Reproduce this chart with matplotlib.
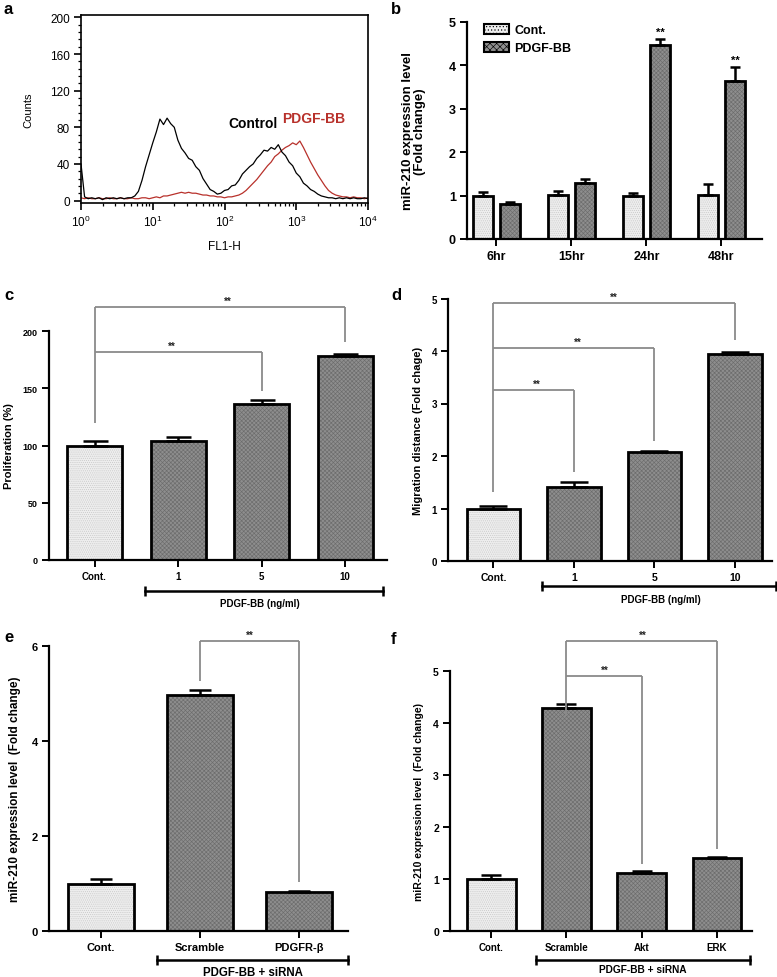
import numpy as np
import matplotlib
matplotlib.use("Agg")
import matplotlib.pyplot as plt
from matplotlib.patches import Patch
from matplotlib.ticker import MultipleLocator, LogLocator, NullFormatter, FixedLocator

plt.rcParams['font.family'] = ['Liberation Sans', 'DejaVu Sans']
plt.rcParams['mathtext.fontset'] = 'custom'
plt.rcParams['mathtext.rm'] = 'Liberation Sans'
plt.rcParams['mathtext.it'] = 'Liberation Sans:italic'
plt.rcParams['mathtext.bf'] = 'Liberation Sans:bold'
plt.rcParams['hatch.linewidth'] = 0.45

# ---------------- data ----------------
# panel a: flow cytometry histogram (log10 FL1-H bins, 0.05 decade apart)
fl_log_bins = np.arange(0, 4.0001, 0.05)
control_counts = [40, 4, 2, 3, 2, 3, 1, 3, 2, 3, 2, 3, 2, 3, 3, 5,
                  10, 22, 37, 50, 63, 75, 89, 83, 90, 84, 80, 66, 57, 52, 46, 44,
                  37, 33, 24, 18, 12, 10, 7, 8, 11, 12, 16, 17, 22, 29, 33, 37,
                  40, 46, 50, 55, 54, 58, 56, 61, 53, 49, 42, 38, 30, 26, 19, 16,
                  12, 10, 7, 5, 4, 3, 3, 2, 3, 2, 3, 2, 3, 2, 2, 3, 2]
pdgf_counts = [3, 2, 3, 2, 2, 3, 2, 2, 3, 2, 2, 3, 2, 2, 3, 2,
               2, 3, 3, 2, 3, 4, 3, 5, 5, 6, 7, 8, 9, 8, 9, 8,
               8, 7, 6, 6, 5, 5, 4, 4, 3, 4, 4, 5, 6, 8, 11, 15,
               19, 23, 28, 33, 38, 42, 48, 51, 55, 58, 60, 63, 61, 65, 58, 50,
               42, 35, 28, 22, 16, 11, 8, 6, 5, 4, 4, 3, 4, 3, 3, 2, 3]

# panel b
b_times = ["6hr", "15hr", "24hr", "48hr"]
b_cont = [1.00, 1.01, 1.00, 1.02]
b_cont_err = [0.09, 0.10, 0.05, 0.25]
b_pdgf = [0.81, 1.28, 4.46, 3.64]
b_pdgf_err = [0.03, 0.10, 0.14, 0.31]

# panel c
c_labels = ["Cont.", "1", "5", "10"]
c_vals = [100, 104, 136, 178]
c_err = [3.5, 3, 4, 1.5]

# panel d
d_labels = ["Cont.", "1", "5", "10"]
d_vals = [1.00, 1.41, 2.08, 3.94]
d_err = [0.04, 0.09, 0.01, 0.04]

# panel e
e_labels = ["Cont.", "Scramble", "PDGFR-β"]
e_vals = [1.00, 4.96, 0.82]
e_err = [0.10, 0.11, 0.02]

# panel f
f_labels = ["Cont.", "Scramble", "Akt", "ERK"]
f_vals = [1.00, 4.28, 1.12, 1.40]
f_err = [0.08, 0.08, 0.03, 0.03]

# ---------------- layout ----------------
W, H = 777, 978
fig = plt.figure(figsize=(W / 100, H / 100), dpi=100)


def rect(l, t, r, b):
    return [l / W, 1 - b / H, (r - l) / W, (b - t) / H]


LIGHT = dict(fc='#eeeeee', hc='#c8c8c8', hatch='........')
DARK = dict(fc='#8e8e8e', hc='#6c6c6c', hatch='xxxxxxxx')


def draw_bars(ax, x, h, w, style):
    ax.bar(x, h, w, color=style['fc'], edgecolor=style['hc'], hatch=style['hatch'],
           linewidth=0, zorder=2)
    ax.bar(x, h, w, fill=False, edgecolor='black', linewidth=2.0, zorder=3)


def draw_err(ax, x, h, e, cap):
    ax.errorbar(x, h, yerr=[np.zeros(len(e)), e], fmt='none', ecolor='black',
                elinewidth=1.8, capsize=cap, capthick=1.8, zorder=4)


def style_bar_axes(ax, ytick_size, xtick_size):
    for s in ['top', 'right']:
        ax.spines[s].set_visible(False)
    for s in ['left', 'bottom']:
        ax.spines[s].set_linewidth(1.6)
    ax.tick_params(direction='out', length=5, width=1.4, pad=3)
    ax.tick_params(axis='y', labelsize=ytick_size)
    ax.tick_params(axis='x', labelsize=xtick_size)
    for lab in ax.get_xticklabels() + ax.get_yticklabels():
        lab.set_fontweight('bold')


def bracket(ax, x0, x1, y, y0_left, y1_right, star_x, star_y, fs=7):
    kw = dict(color='#8a8a8a', lw=1.3, clip_on=False, zorder=5, solid_capstyle='butt')
    if y0_left is not None:
        ax.plot([x0, x0], [y0_left, y], **kw)
    ax.plot([x0, x1], [y, y], **kw)
    ax.plot([x1, x1], [y, y1_right], **kw)
    ax.text(star_x, star_y, "**", ha='center', va='bottom', fontsize=fs,
            fontweight='bold', color='#222222')


def group_line(ax, x0, x1, yax, text, tx, tyax, fs):
    tr = ax.get_xaxis_transform()
    ax.plot([x0, x1], [yax, yax], color='black', lw=1.8, transform=tr, clip_on=False)
    ax.plot([x0, x1], [yax, yax], ls='none', marker='|', ms=7, mew=1.8, color='black',
            transform=tr, clip_on=False)
    ax.text(tx, tyax, text, transform=tr, ha='center', va='center', fontsize=fs,
            fontweight='bold')


def ylabel_at(ax, text, right_px, left_px, width_px, fs, **kw):
    ax.set_ylabel(text, fontsize=fs, fontweight='bold', **kw)
    ax.yaxis.set_label_coords((right_px - left_px) / width_px, 0.5)


# ---------------- panel a ----------------
axa = fig.add_axes(rect(81, 16, 368, 204))
xs = 10 ** fl_log_bins
axa.plot(xs, control_counts, color='black', lw=0.9, zorder=3)
axa.plot(xs, pdgf_counts, color='#b8312b', lw=0.9, zorder=2)
axa.set_xscale('log')
axa.set_xlim(1, 1e4)
axa.set_ylim(-2.7, 202.7)
axa.set_yticks([0, 40, 80, 120, 160, 200])
axa.yaxis.set_minor_locator(MultipleLocator(8))
axa.xaxis.set_major_locator(FixedLocator([1, 10, 100, 1000, 10000]))
axa.xaxis.set_minor_locator(LogLocator(base=10, subs=np.arange(2, 10), numticks=20))
axa.xaxis.set_minor_formatter(NullFormatter())
axa.set_xticklabels([r'$\mathregular{10^{0}}$', r'$\mathregular{10^{1}}$',
                     r'$\mathregular{10^{2}}$', r'$\mathregular{10^{3}}$',
                     r'$\mathregular{10^{4}}$'])
for s in axa.spines.values():
    s.set_linewidth(1.2)
axa.tick_params(which='major', direction='out', length=5, width=1.2, labelsize=8.5, pad=3)
axa.tick_params(which='minor', direction='out', length=2.5, width=0.9)
axa.set_ylabel("Counts", fontsize=8)
axa.yaxis.set_label_coords((33 - 81) / 287, 0.5)
axa.set_xlabel("FL1-H", fontsize=8.5, labelpad=8)
axa.text(250, 85, "Control", fontsize=10, fontweight='bold', ha='center', va='center')
axa.text(1750, 90, "PDGF-BB", fontsize=10, fontweight='bold', ha='center', va='center',
         color='#b8312b')

# ---------------- panel b ----------------
axb = fig.add_axes(rect(467, 22.7, 762, 240))
xb = np.arange(len(b_times))
off, wb = 0.18, 0.265
draw_bars(axb, xb - off, b_cont, wb, LIGHT)
draw_bars(axb, xb + off, b_pdgf, wb, DARK)
draw_err(axb, xb - off, b_cont, b_cont_err, 3.5)
draw_err(axb, xb + off, b_pdgf, b_pdgf_err, 3.5)
axb.set_xlim(-0.39, 3.54)
axb.set_ylim(0, 5)
axb.set_xticks(xb)
axb.set_xticklabels(b_times)
axb.set_yticks([0, 1, 2, 3, 4, 5])
style_bar_axes(axb, 9, 9)
ylabel_at(axb, "miR-210 expression level\n(Fold change)", 426, 467, 295, 9.5,
          linespacing=1.0)
for xi, (v, e) in enumerate(zip(b_pdgf, b_pdgf_err)):
    if v > 3:
        axb.text(xi + off, v + e + 0.05, "**", ha='center', va='bottom', fontsize=8,
                 fontweight='bold')
leg_handles = [Patch(facecolor=LIGHT['fc'], edgecolor='black', hatch='.....', lw=1.5, label='Cont.'),
               Patch(facecolor=DARK['fc'], edgecolor='black', hatch='xxxxx', lw=1.5, label='PDGF-BB')]
lg = axb.legend(handles=leg_handles, loc='upper left', bbox_to_anchor=(0.02, 1.04),
                frameon=False, handlelength=2.0, handleheight=0.8, handletextpad=0.4,
                labelspacing=0.45, prop={'weight': 'bold', 'size': 9})

# ---------------- panel c ----------------
axc = fig.add_axes(rect(49, 332, 387, 561))
xc = np.arange(len(c_labels))
draw_bars(axc, xc[:1], c_vals[:1], 0.66, LIGHT)
draw_bars(axc, xc[1:], c_vals[1:], 0.66, DARK)
draw_err(axc, xc, c_vals, c_err, 9)
axc.set_xlim(-0.545, 3.5)
axc.set_ylim(0, 200)
axc.set_xticks(xc)
axc.set_xticklabels(c_labels)
axc.set_yticks([0, 50, 100, 150, 200])
style_bar_axes(axc, 6.5, 7)
ylabel_at(axc, "Proliferation (%)", 14, 49, 338, 8)
bracket(axc, 0, 3, 221, 120, 190, 1.6, 222)
bracket(axc, 0, 2, 182, None, 148, 0.92, 183)
group_line(axc, 0.6, 3.45, -0.135, "PDGF-BB (ng/ml)", 1.98, -0.188, 7)

# ---------------- panel d ----------------
axd = fig.add_axes(rect(448, 299.5, 772, 562))
xd = np.arange(len(d_labels))
draw_bars(axd, xd[:1], d_vals[:1], 0.66, LIGHT)
draw_bars(axd, xd[1:], d_vals[1:], 0.66, DARK)
draw_err(axd, xd, d_vals, d_err, 10)
axd.set_xlim(-0.565, 3.46)
axd.set_ylim(0, 5)
axd.set_xticks(xd)
axd.set_xticklabels(d_labels)
axd.set_yticks([0, 1, 2, 3, 4, 5])
style_bar_axes(axd, 7, 7.5)
ylabel_at(axd, "Migration distance (Fold chage)", 423, 448, 324, 8)
bracket(axd, 0, 3, 4.91, 1.31, 4.21, 1.5, 4.93)
bracket(axd, 0, 2, 4.06, None, 2.29, 1.05, 4.08)
bracket(axd, 0, 1, 3.26, None, 1.69, 0.54, 3.28)
group_line(axd, 0.6, 3.51, -0.095, "PDGF-BB (ng/ml)", 2.08, -0.145, 7)

# ---------------- panel e ----------------
axe = fig.add_axes(rect(49, 647, 348, 932))
xe = np.arange(len(e_labels))
draw_bars(axe, xe[:1], e_vals[:1], 0.67, LIGHT)
draw_bars(axe, xe[1:], e_vals[1:], 0.67, DARK)
draw_err(axe, xe, e_vals, e_err, 8)
axe.set_xlim(-0.525, 2.495)
axe.set_ylim(0, 6)
axe.set_xticks(xe)
axe.set_xticklabels(e_labels)
axe.set_yticks([0, 2, 4, 6])
style_bar_axes(axe, 8, 8)
ylabel_at(axe, "miR-210 expression level  (Fold change)", 21, 49, 299, 8.5)
bracket(axe, 1, 2, 6.1, 5.26, 1.03, 1.5, 6.12)
group_line(axe, 0.57, 2.5, -0.102, "PDGF-BB + siRNA", 1.53, -0.144, 8.3)

# ---------------- panel f ----------------
axf = fig.add_axes(rect(450, 672, 752, 932))
xf = np.arange(len(f_labels))
draw_bars(axf, xf[:1], f_vals[:1], 0.65, LIGHT)
draw_bars(axf, xf[1:], f_vals[1:], 0.65, DARK)
draw_err(axf, xf, f_vals, f_err, 7)
axf.set_xlim(-0.545, 3.465)
axf.set_ylim(0, 5)
axf.set_xticks(xf)
axf.set_xticklabels(f_labels)
axf.set_yticks([0, 1, 2, 3, 4, 5])
style_bar_axes(axf, 7.5, 7)
ylabel_at(axf, "miR-210 expression level  (Fold change)", 424, 450, 302, 7.5)
bracket(axf, 1, 3, 5.58, 4.13, 1.58, 2.02, 5.6)
bracket(axf, 1, 2, 4.9, None, 1.29, 1.51, 4.92)
group_line(axf, 0.6, 3.44, -0.112, "PDGF-BB + siRNA", 2.02, -0.146, 7.3)

# ---------------- panel letters ----------------
for lt, px, py in [("a", 4, 10), ("b", 391, 9), ("c", 4, 296), ("d", 391, 296),
                   ("e", 4, 638), ("f", 391, 640)]:
    fig.text(px / W, 1 - py / H, lt, fontsize=12, fontweight='bold', ha='left', va='center')

fig.savefig("out.png", dpi=100)
